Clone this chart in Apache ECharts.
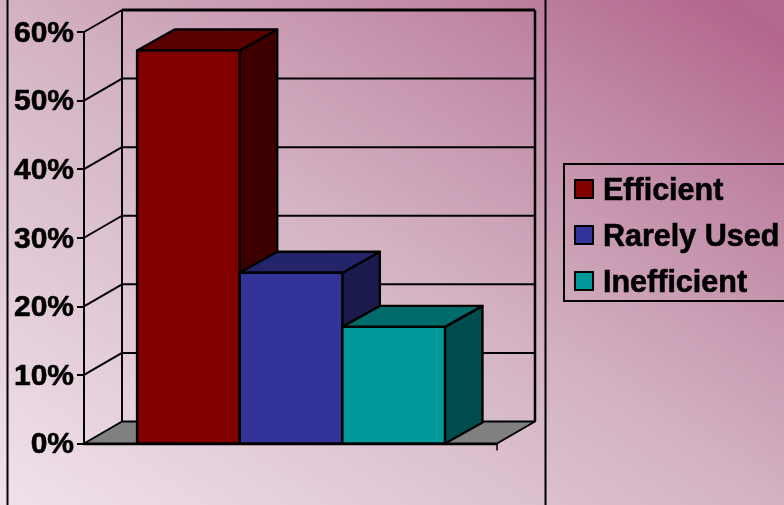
<!DOCTYPE html>
<html>
<head>
<meta charset="utf-8">
<style>html,body{margin:0;padding:0;background:#fff}#c{width:784px;height:505px}</style>
<script src="https://cdn.jsdelivr.net/npm/echarts@6/dist/echarts.min.js"></script>
</head>
<body>
<div id="c"></div>
<script>
const categories = ['Usage'];
const seriesNames = ['Efficient', 'Rarely Used', 'Inefficient'];
const efficient = [0.573];
const rarelyUsed = [0.249];
const inefficient = [0.17];
const yTicks = [0, 0.1, 0.2, 0.3, 0.4, 0.5, 0.6];

const faceColors = [
  { front: '#800000', top: '#5a0000', side: '#3c0000' },
  { front: '#333399', top: '#24246b', side: '#1a1a4d' },
  { front: '#009999', top: '#006b6b', side: '#004d4d' }
];
// Oblique projection vectors of the chart floor and of the blocks, in pixels.
const DEPTH = [38, -22];
const BLOCK_DEPTH = [37.5, -21];
const BAR_SHARE = 0.2485;
const FIRST_OFFSET = 0.1285;

function poly(points, fill, lineWidth) {
  return {
    type: 'polygon',
    shape: { points },
    style: { fill, stroke: '#000', lineWidth: lineWidth || 2.4, lineJoin: 'round' }
  };
}
function seg(a, b, lineWidth) {
  return {
    type: 'line',
    shape: { x1: a[0], y1: a[1], x2: b[0], y2: b[1] },
    style: { stroke: '#000', lineWidth: lineWidth || 2 }
  };
}
const shift = (p) => [p[0] + DEPTH[0], p[1] + DEPTH[1]];
const back = (p) => [p[0] + BLOCK_DEPTH[0], p[1] + BLOCK_DEPTH[1]];

// Back wall, side wall and floor, one grid rule per tick value.
function renderWalls(params, api) {
  const band = api.size([1, 0])[0];
  const cx = api.coord([0, 0])[0];
  const left = cx - band / 2, right = cx + band / 2;
  const y0 = api.coord([0, 0])[1];
  const top = api.coord([0, yTicks[yTicks.length - 1]])[1];
  const children = [];
  children.push(poly([[left, y0], shift([left, y0]), shift([right, y0]), [right, y0]], '#808080', 2));
  yTicks.slice(1, -1).forEach((t) => {
    const y = api.coord([0, t])[1];
    children.push(seg([left, y], shift([left, y])));
    children.push(seg(shift([left, y]), shift([right, y])));
  });
  children.push(seg([left, top], shift([left, top]), 2));
  children.push(seg(shift([left, top]), shift([right, top]), 3));
  children.push(seg(shift([left, top]), shift([left, y0]), 2));
  children.push(seg(shift([right, top]), shift([right, y0]), 2.5));
  children.push(seg([right, y0], [right, y0 + 7], 1.5));
  return { type: 'group', children };
}

function renderBlock(index) {
  return function (params, api) {
    const band = api.size([1, 0])[0];
    const cx = api.coord([0, 0])[0];
    const start = cx - band / 2 + band * (FIRST_OFFSET + BAR_SHARE * index);
    const width = band * BAR_SHARE;
    const base = api.coord([0, 0])[1];
    const head = api.coord([0, api.value(1)])[1];
    const c = faceColors[index];
    const a = [start, base], b = [start + width, base];
    const d = [start, head], e = [start + width, head];
    return {
      type: 'group',
      children: [
        poly([b, e, back(e), back(b)], c.side),
        poly([d, e, back(e), back(d)], c.top),
        poly([a, b, e, d], c.front)
      ]
    };
  };
}

const wallData = [[0, 0]];
const blockSeries = [efficient, rarelyUsed, inefficient].map((vals, i) => ({
  name: seriesNames[i],
  type: 'custom',
  coordinateSystem: 'cartesian2d',
  renderItem: renderBlock(i),
  itemStyle: { color: faceColors[i].front },
  encode: { x: 0, y: 1 },
  z: 3 + i,
  silent: true,
  data: vals.map((v, k) => [k, v])
}));

const labelFont = {
  color: '#000',
  fontFamily: '"Liberation Sans", Arial, sans-serif',
  fontWeight: 'bold',
  textBorderColor: '#000',
  textBorderWidth: 0.6
};

const chart = echarts.init(document.getElementById('c'), null, { renderer: 'canvas' });
chart.setOption({
  animation: false,
  // Light lower-left to deep mauve upper-right, bands parallel to the other diagonal.
  backgroundColor: new echarts.graphic.LinearGradient(162, 609, 622, -104, [
    { offset: 0, color: '#f0e2ea' },
    { offset: 0.5, color: '#d3b2c2' },
    { offset: 0.78, color: '#c088a5' },
    { offset: 0.96, color: '#b3678c' },
    { offset: 1, color: '#b56c90' }
  ], true),
  grid: { left: 84, right: 287, top: 32, bottom: 61.5 },
  xAxis: {
    type: 'category',
    data: categories,
    boundaryGap: true,
    axisLabel: { show: false },
    axisTick: { show: false },
    axisLine: { show: true, lineStyle: { color: '#000', width: 2.4 } }
  },
  yAxis: {
    type: 'value',
    min: 0,
    max: 0.6,
    interval: 0.1,
    splitLine: { show: false },
    axisLine: { show: true, lineStyle: { color: '#000', width: 2 } },
    axisTick: { show: true, length: 7, lineStyle: { color: '#000', width: 2 } },
    axisLabel: Object.assign({
      margin: 10,
      fontSize: 30,
      verticalAlign: 'top',
      lineHeight: 3,
      formatter: (v) => Math.round(v * 100) + '%'
    }, labelFont)
  },
  legend: {
    data: seriesNames,
    orient: 'vertical',
    left: 564,
    top: 164,
    padding: [12, 30, 1, 10],
    itemGap: 14,
    itemWidth: 18,
    itemHeight: 24,
    // Swatch sits in the upper part of a taller cell, so it rides above the text centre.
    icon: 'path://M0 0H18V18H0Z M0 24L0 24Z',
    borderColor: '#000',
    borderWidth: 2,
    itemStyle: { borderColor: '#000', borderWidth: 2 },
    textStyle: Object.assign({ fontSize: 30.5, lineHeight: 32, padding: [0, 0, 0, 5] }, labelFont)
  },
  graphic: [
    { type: 'line', shape: { x1: 7.5, y1: 0, x2: 7.5, y2: 505 }, style: { stroke: '#000', lineWidth: 2 } },
    { type: 'line', shape: { x1: 545.5, y1: 0, x2: 545.5, y2: 505 }, style: { stroke: '#000', lineWidth: 2 } }
  ],
  series: [
    {
      type: 'custom',
      coordinateSystem: 'cartesian2d',
      renderItem: renderWalls,
      silent: true,
      z: 1,
      data: wallData
    }
  ].concat(blockSeries)
});
</script>
</body>
</html>
